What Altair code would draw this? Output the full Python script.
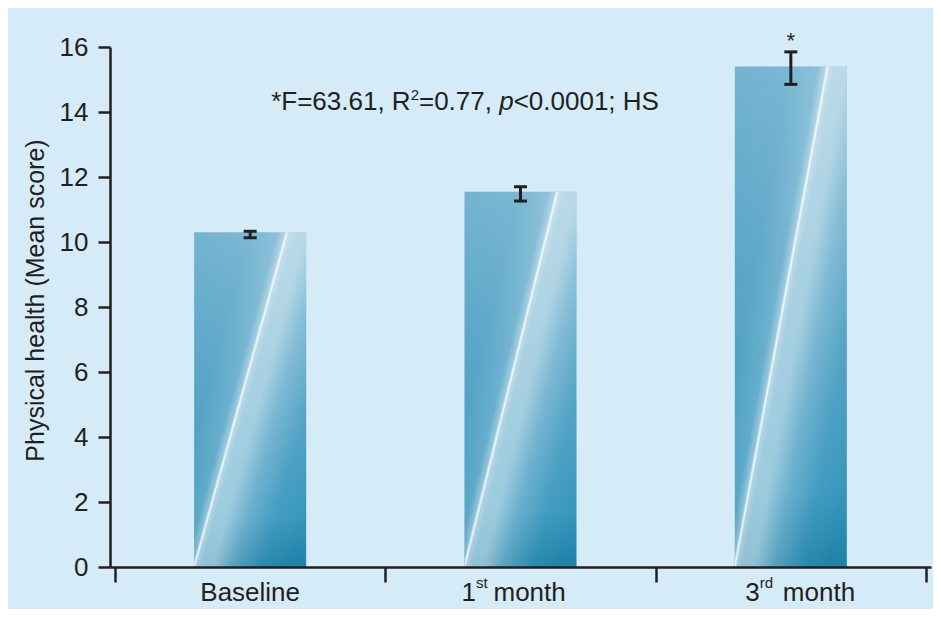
import altair as alt
import pandas as pd

# ---------------- data ----------------
categories = ["Baseline", "1st month", "3rd month"]
label_main = ["Baseline", "1", "3"]
label_sup = ["", "st", "rd"]
label_tail = ["", "month", "month"]
means = [10.3, 11.55, 15.4]
err_low = [10.13, 11.26, 14.85]
err_high = [10.33, 11.70, 15.85]
significance = ["", "", "*"]
y_ticks = [0, 2, 4, 6, 8, 10, 12, 14, 16]
x_boundaries = [0, 1, 2, 3]
annot_parts = ["*F=63.61, R", "2", "=0.77,", "p", "<0.0001; HS"]
y_title = "Physical health (Mean score)"

# ---------------- styling ----------------
BG = "#d5ebf8"
INK = "#231f20"
FONT = "Liberation Sans"
PLOT_W, PLOT_H = 821, 520
FS = 26
SUP_FS = 15

label_align = ["center", "right", "right"]
label_dx_main = [0, -44.5, -31]
label_dx_sup = [0, -44.5, -31]
label_dx_tail = [0, -27, -8]
LABEL_Y = 554          # baseline of x labels (px from plot top)
SUP_RAISE = -13

ANNOT_X = 1.421        # anchor (left edge of italic p) in x units
ANNOT_Y = 63
annot_dx = [-88.5, -88.5, -80.2, 0, 14.5]
annot_dy = [0, -10, 0, 0, 0]
annot_align = ["right", "left", "left", "left", "left"]
annot_size = [FS, SUP_FS, FS, FS, FS]
annot_style = ["normal", "normal", "normal", "italic", "normal"]

pos = [i + 0.5 for i in range(len(categories))]
df = pd.DataFrame({
    "cat": categories, "pos": pos, "mean": means,
    "lo": err_low, "hi": err_high, "sig": significance,
})
caps = pd.DataFrame({
    "pos": pos + pos,
    "val": err_low + err_high,
})

xscale = alt.Scale(domain=[0, 3], nice=False, zero=False)
yscale = alt.Scale(domain=[0, 16], nice=False)

x_axis = alt.Axis(
    values=x_boundaries, labels=False, title=None, grid=False,
    tickSize=15, tickWidth=2.5, tickColor=INK,
    domainColor=INK, domainWidth=2.5, zindex=1,
)
y_axis = alt.Axis(
    values=y_ticks, title=y_title, grid=False,
    tickSize=12, tickWidth=2.5, tickColor=INK,
    domainColor=INK, domainWidth=2.5,
    labelFont=FONT, labelFontSize=FS, labelColor=INK, labelPadding=10,
    titleFont=FONT, titleFontSize=25, titleColor=INK, titleFontWeight="normal",
    titleAngle=270, titleAlign="center", titleBaseline="alphabetic",
    titleX=-67, titleY=253, zindex=1,
)

X = alt.X("pos:Q", scale=xscale, axis=x_axis)

base_grad = alt.LinearGradient(
    gradient="linear", x1=0, y1=0, x2=0, y2=1,
    stops=[
        alt.GradientStop(color="#74b4d1", offset=0),
        alt.GradientStop(color="#55a3c6", offset=0.4),
        alt.GradientStop(color="#3896bd", offset=0.85),
        alt.GradientStop(color="#1f82a9", offset=1),
    ],
)
streak_grad = alt.LinearGradient(
    gradient="linear", x1=0, y1=0, x2=1, y2=0.83,
    stops=[
        alt.GradientStop(color="rgba(255,255,255,0)", offset=0),
        alt.GradientStop(color="rgba(255,255,255,0.05)", offset=0.30),
        alt.GradientStop(color="rgba(255,255,255,0.18)", offset=0.44),
        alt.GradientStop(color="rgba(255,255,255,0.45)", offset=0.48),
        alt.GradientStop(color="rgba(255,255,255,0.95)", offset=0.491),
        alt.GradientStop(color="rgba(255,255,255,0.6)", offset=0.50),
        alt.GradientStop(color="rgba(255,255,255,0.5)", offset=0.53),
        alt.GradientStop(color="rgba(255,255,255,0.5)", offset=0.59),
        alt.GradientStop(color="rgba(255,255,255,0.25)", offset=0.70),
        alt.GradientStop(color="rgba(255,255,255,0.06)", offset=0.85),
        alt.GradientStop(color="rgba(255,255,255,0)", offset=1),
    ],
)

bars = alt.Chart(df).mark_bar(size=112, color=base_grad).encode(
    x=X, y=alt.Y("mean:Q", scale=yscale, axis=y_axis)
)
streak = alt.Chart(df).mark_bar(size=112, color=streak_grad).encode(
    x=X, y=alt.Y("mean:Q", scale=yscale, axis=y_axis)
)
err = alt.Chart(df).mark_rule(color=INK, strokeWidth=3).encode(
    x=X, y=alt.Y("lo:Q", scale=yscale, axis=y_axis), y2="hi:Q"
)
cap = alt.Chart(caps).mark_tick(
    orient="horizontal", size=13, thickness=3, color=INK, opacity=1
).encode(x=X, y=alt.Y("val:Q", scale=yscale, axis=y_axis))
stars = alt.Chart(df).transform_filter("datum.sig != ''").mark_text(
    font=FONT, fontSize=22, color=INK, baseline="alphabetic", dy=-3.5
).encode(x=X, y=alt.Y("hi:Q", scale=yscale, axis=y_axis), text="sig:N")

layers = [bars, streak, err, cap, stars]


def text_layer(text, xpos, y, dx=0, dy=0, align="left", size=FS, style="normal"):
    d = pd.DataFrame({"pos": [xpos], "t": [text]})
    return alt.Chart(d).mark_text(
        font=FONT, fontSize=size, fontStyle=style, color=INK,
        align=align, baseline="alphabetic", dx=dx, dy=dy,
    ).encode(x=X, y=alt.value(y), text="t:N")


for i in range(len(categories)):
    layers.append(text_layer(label_main[i], pos[i], LABEL_Y,
                             dx=label_dx_main[i], align=label_align[i]))
    if label_sup[i]:
        layers.append(text_layer(label_sup[i], pos[i], LABEL_Y,
                                 dx=label_dx_sup[i], dy=SUP_RAISE, size=SUP_FS))
    if label_tail[i]:
        layers.append(text_layer(label_tail[i], pos[i], LABEL_Y,
                                 dx=label_dx_tail[i]))

for j, part in enumerate(annot_parts):
    layers.append(text_layer(part, ANNOT_X, ANNOT_Y, dx=annot_dx[j],
                             dy=annot_dy[j], align=annot_align[j],
                             size=annot_size[j], style=annot_style[j]))

chart = alt.layer(*layers).properties(
    width=PLOT_W, height=PLOT_H, background=BG,
    padding={"left": 102, "top": 39, "right": 2, "bottom": 42},
    autosize=alt.AutoSizeParams(type="none"),
).configure_view(stroke=None)

chart.save("out.html", embed_options={"renderer": "svg", "actions": False})
